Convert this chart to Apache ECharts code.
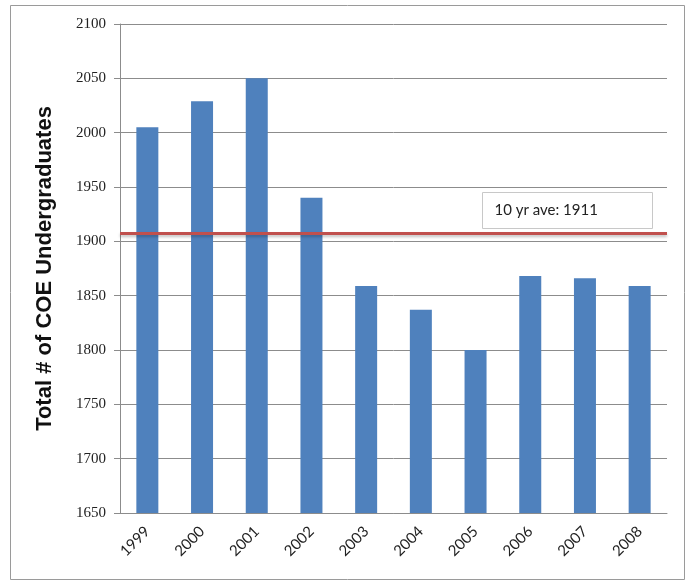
<!DOCTYPE html>
<html>
<head>
<meta charset="utf-8">
<script src="https://cdn.jsdelivr.net/npm/echarts@6/dist/echarts.min.js"></script>
<style>
	html, body { margin: 0; padding: 0; background: #fff; }
	#main { width: 687px; height: 584px; }
</style>
</head>
<body>
<div id="main"></div>
<script>
	// 年份
	var years = ['1999', '2000', '2001', '2002', '2003', '2004', '2005', '2006', '2007', '2008'];
	// 本科生人数
	var students = [2005, 2029, 2050, 1940, 1859, 1837, 1800, 1868, 1866, 1859];
	// 十年平均线(图上画的位置) 和标签
	var aveLine = 1907;
	var aveText = '10 yr ave: 1911';
	var yTicks = [1650, 1700, 1750, 1800, 1850, 1900, 1950, 2000, 2050, 2100];

	var myChart = echarts.init(document.getElementById('main'));
	var option = {
		animation: false,
		grid: {left: 120, right: 20, top: 24, bottom: 71},
		graphic: [
			{
				type: 'rect',
				shape: {x: 10.5, y: 5.5, width: 674, height: 574},
				style: {fill: 'none', stroke: '#9a9a9a', lineWidth: 1}
			},
			{
				type: 'group',
				left: 482, top: 192,
				children: [
					{
						type: 'rect',
						shape: {x: 0, y: 0, width: 170, height: 36},
						style: {fill: '#fff', stroke: '#c8c8c8', lineWidth: 1}
					},
					{
						type: 'text',
						x: 12, y: 18,
						style: {text: aveText, fill: '#222', font: '15px Lato', verticalAlign: 'middle'}
					}
				]
			}
		],
		xAxis: {
			type: 'category',
			data: years,
			axisLine: {lineStyle: {color: '#8c8c8c'}},
			axisTick: {show: false},
			axisLabel: {rotate: 45, margin: 16, color: '#222', fontFamily: 'Lato', fontSize: 15}
		},
		yAxis: {
			type: 'value',
			min: yTicks[0],
			max: yTicks[yTicks.length - 1],
			interval: 50,
			name: 'Total # of COE Undergraduates',
			nameLocation: 'middle',
			nameGap: 64,
			nameTextStyle: {fontFamily: 'Liberation Sans', fontWeight: 'bold', fontSize: 22, color: '#111'},
			axisLine: {show: true, lineStyle: {color: '#8c8c8c'}},
			axisTick: {show: true, length: 6, lineStyle: {color: '#8c8c8c'}},
			axisLabel: {
				margin: 14, color: '#222', fontFamily: 'Liberation Serif', fontSize: 15,
				formatter: function (v) { return String(v); }
			},
			splitLine: {lineStyle: {color: '#8c8c8c', width: 1}}
		},
		series: [
			{
				type: 'bar',
				data: students,
				barWidth: 22,
				itemStyle: {color: '#4f81bd'},
				markLine: {
					silent: true,
					symbol: 'none',
					label: {show: false},
					lineStyle: {color: '#c0504d', width: 3, type: 'solid', shadowColor: 'rgba(0,0,0,0.25)', shadowBlur: 3, shadowOffsetY: 2},
					data: [{yAxis: aveLine}]
				}
			}
		]
	};
	myChart.setOption(option);
</script>
</body>
</html>
